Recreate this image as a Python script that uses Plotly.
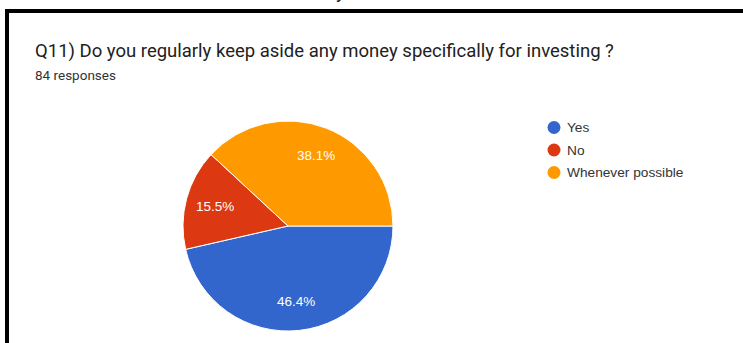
import math
import plotly.graph_objects as go

W, H = 743, 343

labels = ["Yes", "No", "Whenever possible"]
counts = [39, 13, 32]
colors = ["#3366CC", "#DC3912", "#FF9900"]
title_text = "Q11) Do you regularly keep aside any money specifically for investing ?"
subtitle_text = "84 responses"

# pie geometry in pixels
cx, cy, R = 288, 226, 105
start_deg = 90  # first slice starts at 3 o'clock, clockwise

fig = go.Figure()
fig.add_trace(go.Pie(
    labels=labels,
    values=counts,
    sort=False,
    direction="clockwise",
    rotation=start_deg,
    marker=dict(colors=colors, line=dict(color="white", width=1)),
    textinfo="none",
    hoverinfo="label+percent",
    showlegend=False,
    domain=dict(x=[(cx - R) / W, (cx + R) / W],
                y=[(H - cy - R) / H, (H - cy + R) / H]),
))

annotations = []
shapes = []

# percentage labels placed at each slice's mid-angle
total = sum(counts)
acc = 0
for lab, v in zip(labels, counts):
    mid = start_deg + (acc + v / 2) / total * 360
    acc += v
    r = 0.72 * R
    px = cx + r * math.sin(math.radians(mid))
    py = cy - r * math.cos(math.radians(mid))
    annotations.append(dict(
        x=px / W, y=1 - py / H, xref="paper", yref="paper",
        text=f"{v / total * 100:.1f}%", showarrow=False,
        font=dict(family="Liberation Sans, Arial", size=13.5, color="white"),
        xanchor="center", yanchor="middle",
    ))

# legend: circles and labels
leg_x, leg_y0, leg_dy = 554, 127.5, 22.5
for i, (lab, col) in enumerate(zip(labels, colors)):
    ly = leg_y0 + i * leg_dy
    shapes.append(dict(
        type="circle", xref="paper", yref="paper",
        xsizemode="pixel", ysizemode="pixel",
        xanchor=leg_x / W, yanchor=1 - ly / H,
        x0=-6.5, x1=6.5, y0=-6.5, y1=6.5,
        fillcolor=col, line=dict(width=0),
    ))
    annotations.append(dict(
        x=565 / W, y=1 - ly / H, xref="paper", yref="paper",
        text=lab, showarrow=False, xanchor="left", yanchor="middle",
        font=dict(family="Liberation Sans, Arial", size=13.7, color="#333333"),
    ))

# title and response count
annotations.append(dict(
    x=33 / W, y=1 - 51 / H, xref="paper", yref="paper",
    text=title_text, showarrow=False, xanchor="left", yanchor="middle",
    font=dict(family="Roboto", size=18.5, color="#212121"),
))
annotations.append(dict(
    x=33 / W, y=1 - 75 / H, xref="paper", yref="paper",
    text=subtitle_text, showarrow=False, xanchor="left", yanchor="middle",
    font=dict(family="Roboto", size=13.5, color="#333333"),
))

# descender of a line of text above the frame
annotations.append(dict(
    x=341 / W, y=1 - 5 / H, xref="paper", yref="paper",
    text="y", showarrow=False, xanchor="center", yanchor="bottom",
    font=dict(family="Roboto", size=20, color="#222222"),
))

# black frame lines on top and left
shapes.append(dict(type="line", xref="paper", yref="paper",
                   x0=5 / W, x1=1.0, y0=1 - 11 / H, y1=1 - 11 / H,
                   line=dict(color="black", width=4)))
shapes.append(dict(type="line", xref="paper", yref="paper",
                   x0=7 / W, x1=7 / W, y0=1 - 9 / H, y1=0,
                   line=dict(color="black", width=4)))

fig.update_layout(
    width=W, height=H,
    margin=dict(l=0, r=0, t=0, b=0),
    paper_bgcolor="white", plot_bgcolor="white",
    annotations=annotations, shapes=shapes,
    showlegend=False,
)

fig.write_html("out.html")
